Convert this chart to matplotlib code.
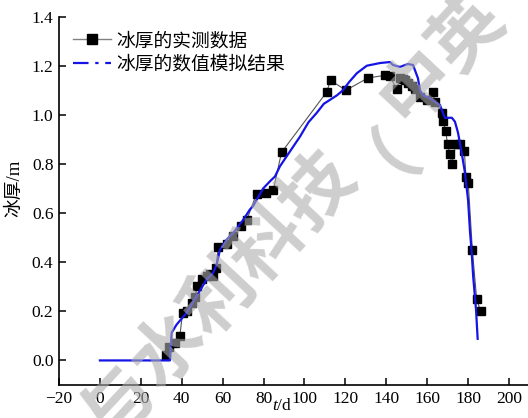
import matplotlib
matplotlib.use("Agg")
import matplotlib.pyplot as plt
from matplotlib.lines import Line2D

plt.rcParams["font.family"] = ["Liberation Serif", "Noto Sans CJK SC"]
plt.rcParams["mathtext.fontset"] = "custom"
plt.rcParams["mathtext.it"] = "Liberation Serif:italic"
plt.rcParams["mathtext.rm"] = "Liberation Serif"

# measured ice thickness (day, m)
t_meas = [32.2, 34, 36.7, 39.1, 40.4, 42.7, 44.8, 46.5, 47.6, 49.7, 52.2, 53.8,
          55.4, 56.7, 57.9, 62, 65.2, 68.8, 71.7, 76.6, 81, 84.8, 88.8, 110.8,
          112.8, 120.3, 131, 139.4, 141.8, 145.1, 146.7, 148, 149.1, 150.8, 152.4,
          154, 156.5, 159.7, 162.7, 163.8, 167.1, 167.9, 169, 170, 171.1, 172.1,
          174.1, 176, 178.2, 179, 180.1, 182.1, 184.2, 186.1]
h_meas = [0.024, 0.055, 0.072, 0.10, 0.194, 0.20, 0.235, 0.26, 0.302, 0.33, 0.343,
          0.35, 0.345, 0.377, 0.462, 0.474, 0.505, 0.546, 0.57, 0.679, 0.682, 0.695,
          0.847, 1.092, 1.14, 1.10, 1.15, 1.161, 1.158, 1.104, 1.149, 1.145, 1.142,
          1.129, 1.118, 1.104, 1.072, 1.061, 1.091, 1.054, 1.009, 0.973, 0.935,
          0.882, 0.84, 0.80, 0.882, 0.881, 0.851, 0.747, 0.722, 0.451, 0.251, 0.20]

# simulated ice thickness (day, m)
t_sim = [0, 34.2, 35.1, 37.5, 42.4, 47.3, 52.2, 55.4, 57.1, 58.7, 62, 65.2, 70.1,
         73.3, 75, 79.8, 83.1, 85.6, 88, 91.3, 97.8, 102, 106, 109.5, 112.5, 116,
         118.8, 122, 125.7, 130.5, 137, 141.8, 143.3, 146.7, 150.6, 153.1, 155.5,
         156.5, 158, 161.4, 163.8, 166.3, 167.7, 168.7, 172.1, 173.6, 175.1, 176.9,
         178.5, 180, 181, 181.7, 182.5, 183.9, 184.7]
h_sim = [0, 0, 0.113, 0.146, 0.194, 0.262, 0.33, 0.357, 0.39, 0.451, 0.492, 0.519,
         0.573, 0.614, 0.63, 0.70, 0.729, 0.749, 0.79, 0.831, 0.911, 0.97, 1.008,
         1.045, 1.061, 1.08, 1.10, 1.135, 1.17, 1.20, 1.211, 1.215, 1.203, 1.195,
         1.207, 1.203, 1.149, 1.10, 1.08, 1.068, 1.053, 1.04, 1.008, 0.988, 0.988,
         0.972, 0.927, 0.845, 0.764, 0.654, 0.52, 0.45, 0.343, 0.207, 0.088]

x_ticks = [-20, 0, 20, 40, 60, 80, 100, 120, 140, 160, 180, 200]
y_ticks = [0.0, 0.2, 0.4, 0.6, 0.8, 1.0, 1.2, 1.4]
label_meas = "冰厚的实测数据"
label_sim = "冰厚的数值模拟结果"
watermark_chars = "与水利科技（中英"

W, H = 528, 418
fig = plt.figure(figsize=(W / 100, H / 100), dpi=100)
ax = fig.add_axes([59 / W, 33 / H, 470.4 / W, 368.4 / H])

ax.plot(t_meas, h_meas, color="#555555", lw=0.8, marker="s", ms=5.8,
        mfc="black", mec="black", zorder=2)
ax.plot(t_sim, h_sim, color="#1414e6", lw=1.6, zorder=3)

ax.set_xlim(-20, 210)
ax.set_ylim(-0.1, 1.4)
ax.set_xticks(x_ticks)
ax.set_yticks(y_ticks)
ax.set_yticklabels([f"{v:.1f}" for v in y_ticks])
for s in ("top", "right"):
    ax.spines[s].set_visible(False)
for s in ("left", "bottom"):
    ax.spines[s].set_linewidth(1.2)
ax.tick_params(direction="in", length=5, width=1.1, labelsize=12.5, pad=4)

ax.set_ylabel("冰厚/m", fontsize=13.5)
ax.yaxis.set_label_coords((23 - 59) / 470.4, (385 - 188) / 368.4)
ax.set_xlabel("$t$/d", fontsize=12.5)
ax.xaxis.set_label_coords((282 - 59) / 470.4, -0.036)

h1 = Line2D([], [], color="#808080", lw=1.0, marker="s", ms=6.5,
            mfc="black", mec="black")
h2 = Line2D([], [], color="#1414e6", lw=1.6, dashes=(7, 3, 1.5, 3))
ax.legend([h1, h2], [label_meas, label_sim], loc="upper left",
          bbox_to_anchor=((73 - 59) / 470.4, (385 - 30) / 368.4),
          frameon=False, borderpad=0, borderaxespad=0, handlelength=2.0,
          handletextpad=0.3, labelspacing=0.12,
          prop={"family": ["Noto Sans CJK SC"], "size": 13.5})

# faint diagonal watermark, one glyph at a time
cx, cy = 417, 86
step_x, step_y = 49.5, -53.0
k0 = watermark_chars.index("中")
for i, ch in enumerate(watermark_chars):
    k = i - k0
    px, py = cx + k * step_x, cy + k * step_y
    fig.text(px / W, 1 - py / H, ch, fontsize=52, family=["Noto Sans CJK SC"],
             fontweight="bold", color=(0.68, 0.68, 0.68), alpha=0.6,
             rotation=47, rotation_mode="anchor", ha="center", va="center",
             zorder=10)

fig.savefig("out.png", dpi=100)
